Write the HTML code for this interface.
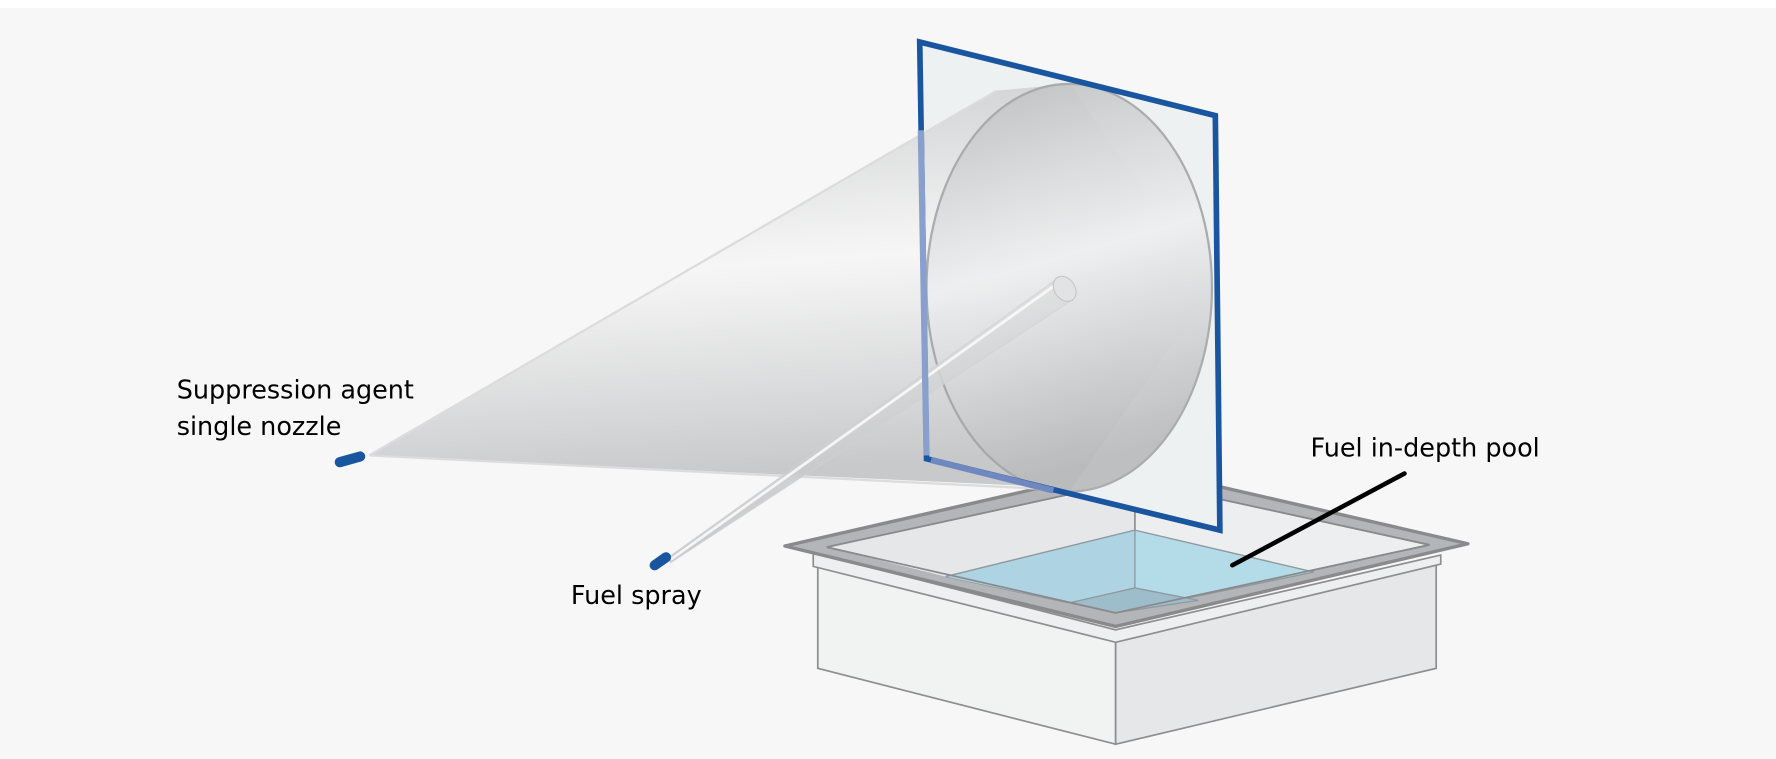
<!DOCTYPE html>
<html><head><meta charset="utf-8"><style>
html,body{margin:0;padding:0;background:#fff;}
svg{display:block;}
text{font-family:"DejaVu Sans","Liberation Sans",sans-serif;fill:#000;}
</style></head><body>
<svg width="1776" height="759" viewBox="0 0 1568 670" xmlns="http://www.w3.org/2000/svg">
<defs>
<linearGradient id="cone" x1="0" y1="0" x2="0.15" y2="1">
<stop offset="0" stop-color="#c4c5c7"/>
<stop offset="0.5" stop-color="#f6f6f6"/>
<stop offset="1" stop-color="#c0c1c3"/>
</linearGradient>
<linearGradient id="disc" x1="0" y1="0" x2="0.2" y2="1">
<stop offset="0" stop-color="#bcbdbf"/>
<stop offset="0.5" stop-color="#eeeff0"/>
<stop offset="1" stop-color="#b9babc"/>
</linearGradient>
<linearGradient id="spray" x1="0" y1="0" x2="0.3" y2="1">
<stop offset="0" stop-color="#ececec"/>
<stop offset="1" stop-color="#bdbec0"/>
</linearGradient>
</defs>
<rect x="0" y="7" width="1568" height="663" fill="#f7f7f7"/>

<polygon points="722,500 985,565 985,657 722,590" fill="#f1f2f2" stroke="#8e8e90" stroke-width="1.5"/>
<polygon points="985,565 1268,498 1268,590 985,657" fill="#e6e7e8" stroke="#8e8e90" stroke-width="1.5"/>
<polygon points="718,488 985,556 1272,490 1272,498 985,567 718,500" fill="#eeeff0" stroke="#8e8e90" stroke-width="1.5"/>
<polygon points="693,482 1000,412 1296,480 985,553" fill="#b4b5b8" stroke="#8a8a8d" stroke-width="3" stroke-linejoin="round"/>
<polygon points="730,483 1001,424 1262,481 985,541" fill="#edeeef" stroke="#8a8a8d" stroke-width="1.5"/>
<polygon points="835,509 1002,468 1002,426 730,483" fill="#e6e7e9"/>
<line x1="1002" y1="468" x2="1002" y2="428" stroke="#8e8e90" stroke-width="1.5"/>
<polygon points="835,509 1002,468 1160,505 985,541" fill="#b4dbe8" stroke="#8e9a9f" stroke-width="1.2"/>
<polygon points="835,509 1002,468 1002,520 945,532" fill="#aed3e2"/>
<polygon points="945,532 1002,519 1058,530 985,541" fill="#9dbdca" stroke="#8e9a9f" stroke-width="1.2"/>
<line x1="1002" y1="468" x2="1002" y2="519" stroke="#8e9a9f" stroke-width="1.2"/>
<line x1="835" y1="509" x2="1002" y2="468" stroke="#8e9a9f" stroke-width="1.2"/>
<polygon points="730,483 1001,424 1262,481 985,541" fill="none" stroke="#8a8a8d" stroke-width="1.5"/>

<polygon points="812,37 1073,102 1077,468 818,405" fill="#eef1f1"/>
<polygon points="326,402 880,80 944,74 1070,254 944,434 930,430" fill="url(#cone)" opacity="0.85"/>
<line x1="326" y1="402" x2="880" y2="80" stroke="#dcdcdd" stroke-width="2"/>
<line x1="326" y1="402" x2="930" y2="432" stroke="#dcdcdd" stroke-width="2"/>
<ellipse cx="944" cy="254" rx="126" ry="180" fill="url(#disc)" opacity="0.9" stroke="#a4a5a7" stroke-width="2"/>
<polygon points="590,492 932,247 948,264 592,497" fill="url(#spray)" opacity="0.85" stroke="#d0d1d3" stroke-width="0.8"/>
<line x1="592" y1="494" x2="934" y2="250" stroke="#fafafa" stroke-width="2.5" opacity="0.9"/>
<ellipse cx="940" cy="255" rx="9" ry="12" transform="rotate(-35 940 255)" fill="#e2e3e4" stroke="#c4c5c7" stroke-width="1"/>
<polygon points="812,37 1073,102 1077,468 818,405" fill="none" stroke="#1a56a0" stroke-width="5" stroke-linejoin="miter"/>
<line x1="813" y1="115" x2="818" y2="402" stroke="#8aa0cc" stroke-width="5.5"/>
<line x1="822" y1="406" x2="930" y2="433" stroke="#6f88c0" stroke-width="5.5"/>

<line x1="300" y1="408" x2="318" y2="403" stroke="#1a56a0" stroke-width="9" stroke-linecap="round"/>
<line x1="578" y1="499" x2="588" y2="492" stroke="#1a56a0" stroke-width="9" stroke-linecap="round"/>

<line x1="1088" y1="499" x2="1240" y2="418" stroke="#000" stroke-width="4" stroke-linecap="round"/>

<text x="156" y="352" font-size="22.5">Suppression agent</text>
<text x="156" y="384" font-size="22.5">single nozzle</text>
<text x="504" y="533" font-size="22.5">Fuel spray</text>
<text x="1157" y="403" font-size="22.5">Fuel in-depth pool</text>
</svg>
</body></html>
